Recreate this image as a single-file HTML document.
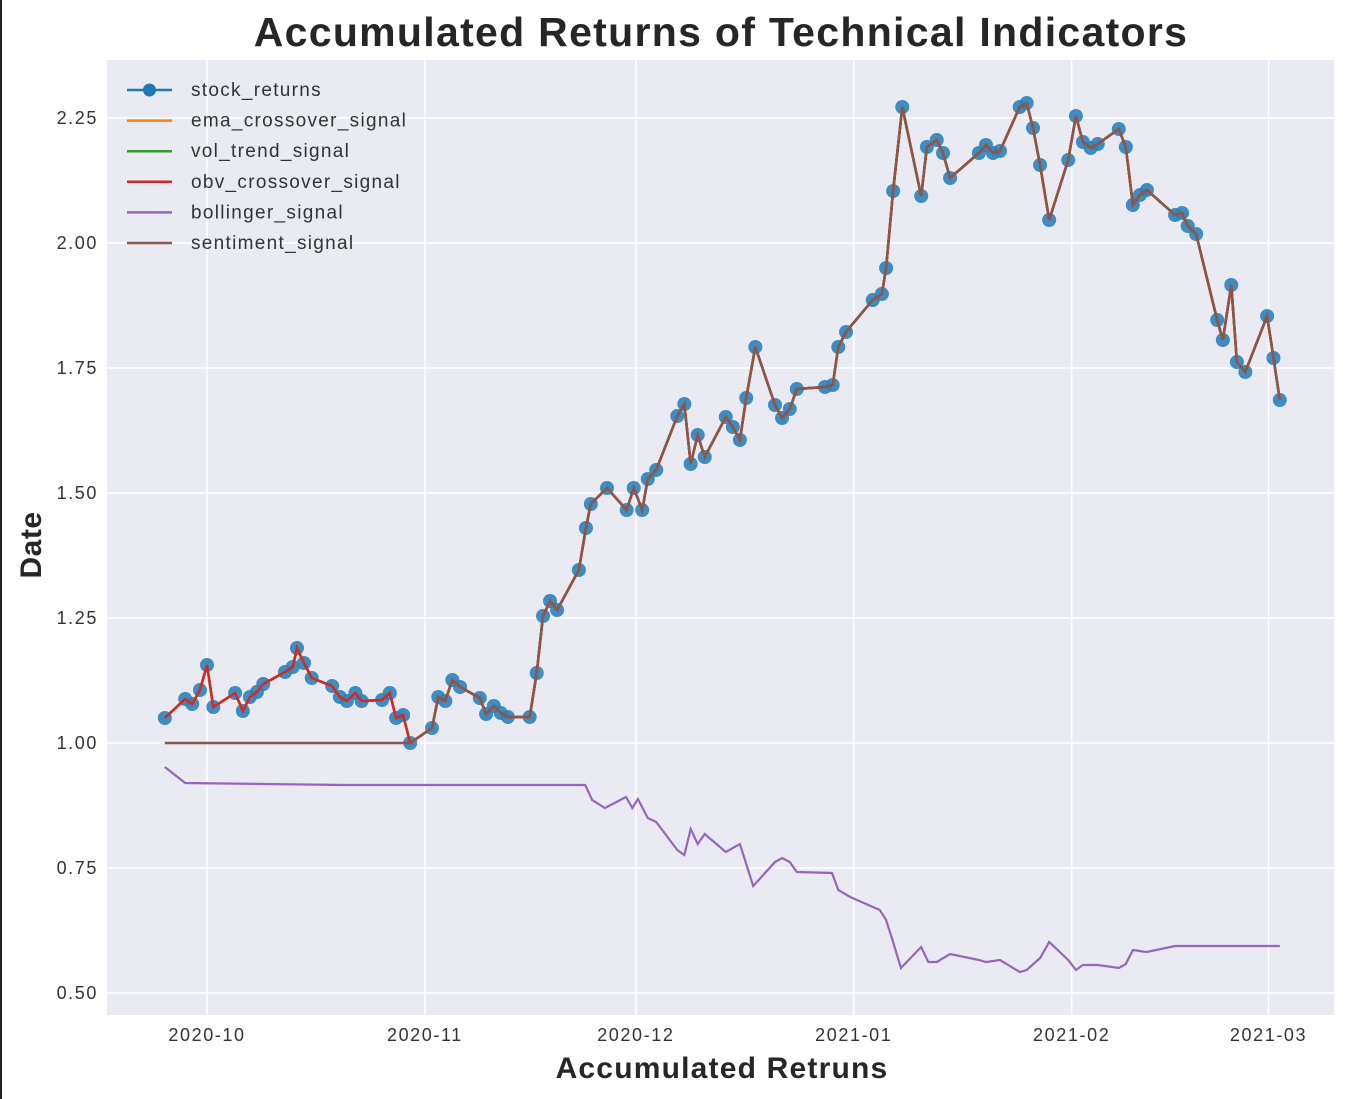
<!DOCTYPE html>
<html><head><meta charset="utf-8"><style>
html,body{margin:0;padding:0;background:#fff;}
svg{display:block;font-family:"Liberation Sans",Arial,sans-serif;}
.tk{letter-spacing:1.6px;}
</style></head><body>
<svg id="chart" width="1349" height="1099" viewBox="0 0 1349 1099">
<rect x="0" y="0" width="2" height="1099" fill="#222"/>
<text x="721" y="46" text-anchor="middle" font-size="41" font-weight="bold" fill="#262626" style="letter-spacing:1.3px">Accumulated Returns of Technical Indicators</text>
<rect x="107" y="60" width="1227" height="955" fill="#eaeaf2"/>
<g id="grid"></g>
<g id="ticks"></g>
<g id="series"></g>
<text x="722" y="1078" text-anchor="middle" font-size="30" font-weight="bold" fill="#262626" style="letter-spacing:1.2px">Accumulated Retruns</text>
<text transform="translate(41,545) rotate(-90)" text-anchor="middle" font-size="30" font-weight="bold" fill="#262626" style="letter-spacing:0.5px">Date</text>
<g id="legend"></g>
</svg>
<script>
// Days since 2020-10-01
const stockDays = [-6,-3.1,-2.1,-1,0,0.9,4,5.1,6.1,7.1,8,11.1,12.2,12.8,13.8,14.9,17.8,18.9,19.9,21.1,22,24.9,26,26.9,27.9,28.9,32,32.9,33.9,34.9,36,38.8,39.7,40.8,41.8,42.8,45.9,46.9,47.8,48.8,49.8,52.9,53.9,54.6,56.9,59.7,60.7,61.9,62.7,63.9,66.9,67.9,68.8,69.8,70.8,73.8,74.8,75.8,76.7,78,80.8,81.8,82.9,83.9,87.9,89,89.8,90.9,94.7,96,96.6,97.6,98.9,101.6,102.4,103.8,104.7,105.7,109.8,110.8,111.8,112.8,115.6,116.6,117.5,118.5,119.8,122.5,123.6,124.6,125.7,126.7,129.7,130.7,131.7,132.7,133.7,137.7,138.7,139.5,140.7,143.7,144.5,145.7,146.5,147.7,150.8,151.7,152.6];
const stockValues = [1.050,1.088,1.078,1.106,1.156,1.072,1.100,1.064,1.092,1.102,1.118,1.142,1.152,1.190,1.160,1.130,1.114,1.092,1.084,1.100,1.084,1.086,1.100,1.050,1.056,1.000,1.030,1.092,1.084,1.126,1.112,1.090,1.058,1.074,1.060,1.052,1.052,1.140,1.254,1.284,1.266,1.346,1.430,1.478,1.510,1.466,1.510,1.466,1.528,1.546,1.654,1.678,1.558,1.616,1.572,1.652,1.632,1.606,1.690,1.792,1.676,1.650,1.668,1.708,1.712,1.716,1.792,1.822,1.886,1.898,1.950,2.104,2.272,2.094,2.192,2.206,2.180,2.130,2.180,2.196,2.180,2.184,2.272,2.280,2.230,2.156,2.046,2.166,2.254,2.202,2.190,2.198,2.228,2.192,2.076,2.096,2.106,2.056,2.060,2.034,2.018,1.846,1.806,1.916,1.762,1.742,1.854,1.770,1.686];
const sentimentFlatValue = 1.0;
const sentimentFlatUntilDay = 28.9;
const bollDays = [-6,-3.1,19.6,53.8,54.8,56.6,59.6,60.5,61.3,62.7,63.9,66.9,67.9,68.8,69.8,70.8,73.8,75.8,77.7,80.8,81.8,82.9,83.9,88.9,89.8,91.5,95.7,96.6,97.6,98.7,101.6,102.6,103.8,105.7,109.8,110.8,112.8,115.6,116.6,118.5,119.8,122.5,123.6,124.6,126.7,129.7,130.7,131.7,133.7,137.7,152.6];
const bollValues = [0.952,0.920,0.916,0.916,0.886,0.870,0.892,0.870,0.888,0.850,0.842,0.786,0.776,0.828,0.798,0.818,0.782,0.798,0.714,0.762,0.770,0.762,0.742,0.740,0.706,0.692,0.666,0.646,0.602,0.550,0.592,0.562,0.562,0.578,0.566,0.562,0.566,0.542,0.546,0.570,0.602,0.566,0.546,0.556,0.556,0.550,0.558,0.586,0.582,0.594,0.594];
const xTickDays = [0,31,61,92,123,151];
const xTickLabels = ["2020-10","2020-11","2020-12","2021-01","2021-02","2021-03"];
const yTickValues = [0.5,0.75,1.0,1.25,1.5,1.75,2.0,2.25];
const yTickLabels = ["0.50","0.75","1.00","1.25","1.50","1.75","2.00","2.25"];
const legendLabels = ["stock_returns","ema_crossover_signal","vol_trend_signal","obv_crossover_signal","bollinger_signal","sentiment_signal"];
const legendColors = ["#1f77b4","#ff7f0e","#2ca02c","#d62728","#9467bd","#8c564b"];

const NS = "http://www.w3.org/2000/svg";
function xs(d){ return 207 + d * 7.03; }
function ys(v){ return 743 - (v - 1) * 500; }
function mk(tag, attrs, parent){ const e = document.createElementNS(NS, tag); for (const k in attrs) e.setAttribute(k, attrs[k]); parent.appendChild(e); return e; }
const grid = document.getElementById('grid'), ticks = document.getElementById('ticks'), series = document.getElementById('series'), legend = document.getElementById('legend');

xTickDays.forEach((d, i) => {
  const l = mk('line', {x1: xs(d), x2: xs(d), y1: 60, y2: 1015, stroke: '#fff', 'stroke-width': 1.5}, grid);
  
  
  const t = mk('text', {x: xs(d), y: 1041, 'text-anchor': 'middle', 'font-size': 18, fill: '#333', class: 'tk'}, ticks);
  t.textContent = xTickLabels[i];
  
  
});
yTickValues.forEach((v, i) => {
  const l = mk('line', {x1: 107, x2: 1334, y1: ys(v), y2: ys(v), stroke: '#fff', 'stroke-width': 1.5}, grid);
  
  
  const t = mk('text', {x: 98, y: ys(v) + 6, 'text-anchor': 'end', 'font-size': 18, fill: '#333', class: 'tk'}, ticks);
  t.textContent = yTickLabels[i];
  
  
});

function pts(days, vals){ return days.map((d, i) => xs(d).toFixed(1) + ',' + ys(vals[i]).toFixed(1)).join(' '); }

const sl = mk('polyline', {points: pts(stockDays, stockValues), fill: 'none', stroke: '#1f77b4', 'stroke-width': 2.5}, series);


stockDays.forEach((d, i) => {
  const c = mk('circle', {cx: xs(d), cy: ys(stockValues[i]), r: 7, fill: '#2b82bd', opacity: 0.9}, series);
  
  
});
['ema-crossover-line', 'vol-trend-line', 'obv-crossover-line'].forEach((n, k) => {
  const p = mk('polyline', {points: pts(stockDays, stockValues), fill: 'none', stroke: legendColors[k + 1], 'stroke-width': 2.5}, series);
  
  
});
const bl = mk('polyline', {points: pts(bollDays, bollValues), fill: 'none', stroke: '#9467bd', 'stroke-width': 2.2}, series);


const sentVals = stockValues.map((v, i) => stockDays[i] < sentimentFlatUntilDay ? sentimentFlatValue : v);
const sn = mk('polyline', {points: pts(stockDays, sentVals), fill: 'none', stroke: '#8c564b', 'stroke-width': 2.5}, series);



legendLabels.forEach((lab, i) => {
  const y = 90 + i * 30.6;
  const l = mk('line', {x1: 127, x2: 172, y1: y, y2: y, stroke: legendColors[i], 'stroke-width': 2.5}, legend);
  
  
  if (i === 0) {
    const c = mk('circle', {cx: 149.5, cy: y, r: 6.5, fill: legendColors[0]}, legend);
    
    
  }
  const t = mk('text', {x: 191, y: y + 6, 'font-size': 19, fill: '#333', style: 'letter-spacing:1.3px'}, legend);
  t.textContent = lab;
  
  
});
</script>
</body></html>
